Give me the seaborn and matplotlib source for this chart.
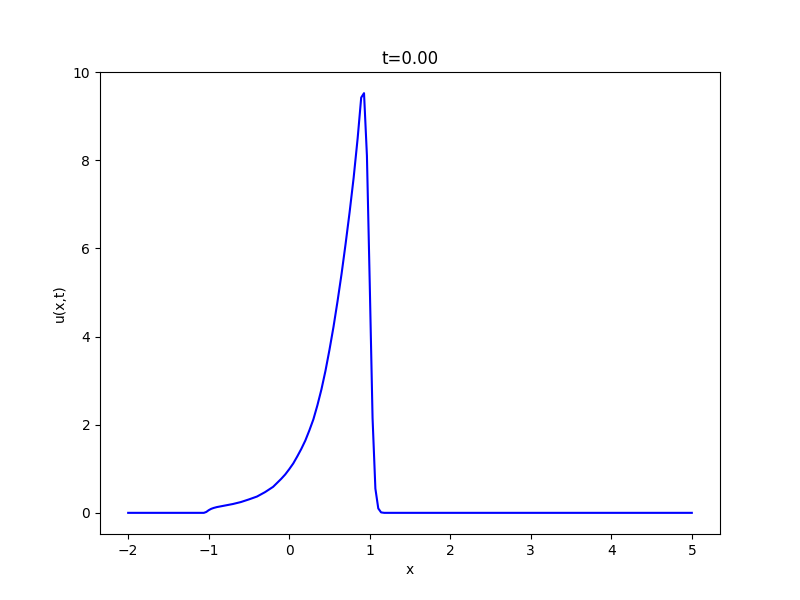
import matplotlib
matplotlib.use("Agg")
import matplotlib.pyplot as plt
import seaborn as sns
import pandas as pd

x_vals = [-2.0, -1.5, -1.06, -1.03, -1.0, -0.97, -0.94, -0.9, -0.8, -0.7, -0.6,
          -0.5, -0.4, -0.3, -0.2, -0.1, -0.05, 0.0, 0.05, 0.1, 0.15, 0.2, 0.25,
          0.3, 0.35, 0.4, 0.45, 0.5,
          0.55, 0.6, 0.65, 0.7, 0.75, 0.8, 0.85, 0.894, 0.929, 0.965, 1.0, 1.035,
          1.07, 1.106, 1.141, 1.18, 2.0, 3.0, 4.0, 5.0]
u_vals = [0.0, 0.0, 0.0, 0.02, 0.06, 0.09, 0.11, 0.13, 0.165, 0.20, 0.245,
          0.305, 0.37, 0.47, 0.59, 0.77, 0.87, 0.99, 1.12, 1.28, 1.45, 1.64, 1.87,
          2.12, 2.44, 2.80, 3.22, 3.70,
          4.22, 4.80, 5.42, 6.10, 6.82, 7.60, 8.50, 9.42, 9.52, 8.10, 5.20, 2.15,
          0.55, 0.10, 0.01, 0.0, 0.0, 0.0, 0.0, 0.0]

df = pd.DataFrame({"x": x_vals, "u": u_vals})

fig, ax = plt.subplots(figsize=(8, 6), dpi=100)
sns.lineplot(data=df, x="x", y="u", color="blue", linewidth=1.5, ax=ax,
             estimator=None, sort=False)
ax.set_ylim(-0.48, 10.0)
ax.set_title("t=0.00")
ax.set_xlabel("x")
ax.set_ylabel("u(x,t)")
fig.savefig("out.png", dpi=100)
